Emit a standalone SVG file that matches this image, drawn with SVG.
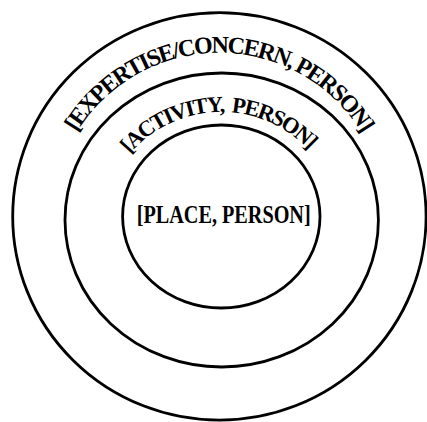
<svg xmlns="http://www.w3.org/2000/svg" xmlns:xlink="http://www.w3.org/1999/xlink" width="427" height="422" viewBox="0 0 427 422">
  <style>
    .ring { fill: none; stroke: #000; stroke-width: 2.8; }
    .lbl { font-family: "Liberation Serif", "Times New Roman", serif; font-weight: bold; fill: #000; white-space: pre; }
  </style>
  <defs>
    <path id="arcOuter" d="M 62 162.9 A 167 167 0 0 1 376 162.9"/>
    <path id="arcMiddle" d="M 102.8 211.2 A 120 120 0 0 1 339.2 211.2"/>
  </defs>
  <rect width="427" height="422" fill="#fff"/>
  <g id="outer">
    <ellipse class="ring" cx="219.4" cy="216.4" rx="206.7" ry="203.7"/>
    <text class="lbl" font-size="24" letter-spacing="-1.8" text-anchor="middle"><textPath xlink:href="#arcOuter" href="#arcOuter" startOffset="50%">[EXPERTISE/CONCERN, PERSON]</textPath></text>
  </g>
  <g id="middle">
    <ellipse class="ring" cx="221.7" cy="220" rx="156.7" ry="147"/>
    <text class="lbl" font-size="22.5" letter-spacing="-1.75" text-anchor="middle" xml:space="preserve"><textPath xlink:href="#arcMiddle" href="#arcMiddle" startOffset="49%">[ACTIVITY,  PERSON]</textPath></text>
  </g>
  <g id="inner">
    <ellipse class="ring" cx="221.3" cy="216.5" rx="98.7" ry="91.5"/>
    <text class="lbl" font-size="25" x="223.7" y="223" text-anchor="middle" textLength="174" lengthAdjust="spacingAndGlyphs">[PLACE, PERSON]</text>
  </g>
  <g id="connectors"/>
</svg>
